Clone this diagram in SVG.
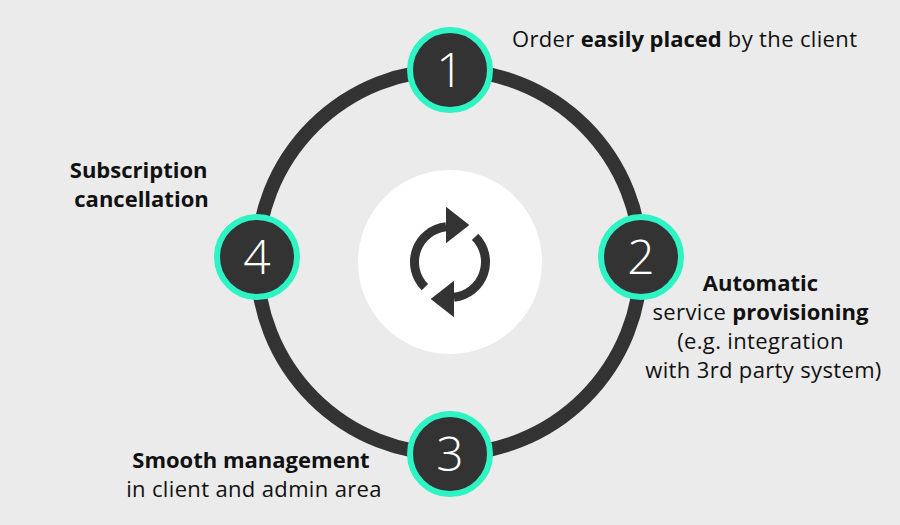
<svg xmlns="http://www.w3.org/2000/svg" width="900" height="525" viewBox="0 0 900 525">
  <style>
    .lbl { font-family: "Open Sans", "Noto Sans", "Liberation Sans", sans-serif; font-size: 22px; fill: #111111; letter-spacing: 0.35px; }
    .b { font-weight: 700; letter-spacing: 0; }
    .num { font-family: "Open Sans", "Noto Sans", "Liberation Sans", sans-serif; font-size: 48px; fill: #ffffff; text-anchor: middle; font-weight: 300; }
    .node { fill: #333333; stroke: #2ef3c3; stroke-width: 6; }
  </style>
  <rect width="900" height="525" fill="#ebebeb"/>
  <g id="connectors">
    <circle cx="449" cy="262" r="192" fill="none" stroke="#333333" stroke-width="14"/>
  </g>
  <g id="center">
    <circle cx="450" cy="262" r="92" fill="#ffffff"/>
    <path d="M 424.9 287.1 A 35.5 35.5 0 0 1 446 226.7" fill="none" stroke="#333333" stroke-width="9"/>
    <polygon points="446,206.7 469.3,225 446,243.3" fill="#333333"/>
    <path d="M 475.1 236.9 A 35.5 35.5 0 0 1 454 297.3" fill="none" stroke="#333333" stroke-width="9"/>
    <polygon points="454,317.3 430.7,299 454,280.7" fill="#333333"/>
  </g>
  <g id="node1">
    <circle class="node" cx="450" cy="70" r="40"/>
    <text class="num" x="450" y="87">1</text>
    <text class="lbl" x="512" y="47"><tspan>Order </tspan><tspan class="b">easily placed</tspan><tspan> by the client</tspan></text>
  </g>
  <g id="node2">
    <circle class="node" cx="641" cy="257" r="40"/>
    <text class="num" x="641" y="274">2</text>
    <text class="lbl" text-anchor="middle">
      <tspan class="b" x="763.5" y="291">Automatic</tspan>
      <tspan x="763.5" y="320">service <tspan class="b">provisioning</tspan></tspan>
      <tspan x="763.5" y="349">(e.g. integration</tspan>
      <tspan x="763.5" y="378">with 3rd party system)</tspan>
    </text>
  </g>
  <g id="node3">
    <circle class="node" cx="450" cy="454" r="40"/>
    <text class="num" x="450" y="471">3</text>
    <text class="lbl" text-anchor="middle">
      <tspan class="b" x="254" y="468">Smooth management</tspan>
      <tspan x="254" y="497">in client and admin area</tspan>
    </text>
  </g>
  <g id="node4">
    <circle class="node" cx="257" cy="257" r="40"/>
    <text class="num" x="257" y="274">4</text>
    <text class="lbl b" text-anchor="middle">
      <tspan x="141.5" y="178">Subscription</tspan>
      <tspan x="141.5" y="207">cancellation</tspan>
    </text>
  </g>
</svg>
